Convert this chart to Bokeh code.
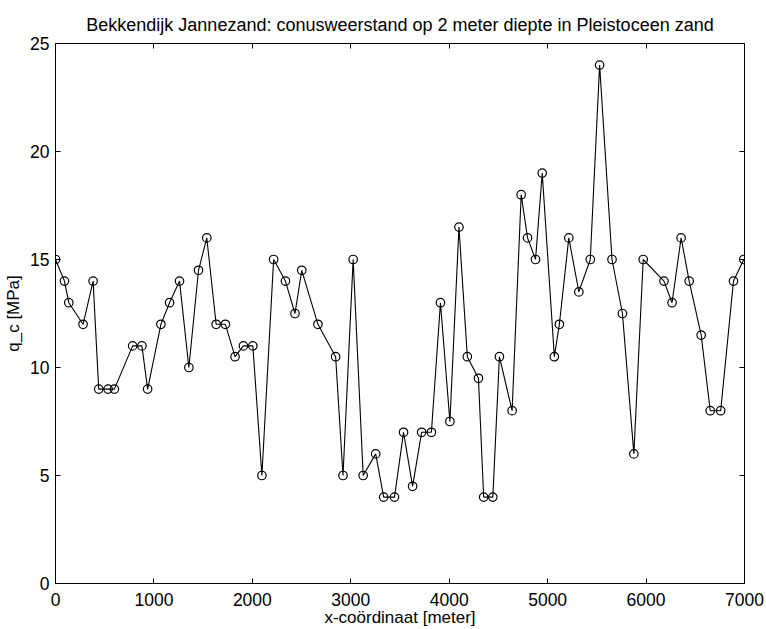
from bokeh.plotting import figure
from bokeh.models import LinearAxis, Range1d, FixedTicker
from bokeh.embed import file_html
from bokeh.resources import INLINE

x_m = [0, 91, 135, 280, 382, 439, 534, 598, 784, 878,
       936, 1071, 1159, 1260, 1355, 1453, 1537, 1632, 1726, 1824,
       1909, 2005, 2097, 2216, 2336, 2433, 2502, 2666, 2846, 2921,
       3024, 3126, 3253, 3334, 3444, 3536, 3628, 3720, 3819, 3911,
       4007, 4099, 4184, 4297, 4350, 4443, 4510, 4639, 4731, 4796,
       4877, 4945, 5068, 5119, 5215, 5317, 5433, 5528, 5654, 5760,
       5876, 5971, 6182, 6264, 6356, 6438, 6560, 6652, 6758, 6888,
       6993]
qc = [15, 14, 13, 12, 14, 9, 9, 9, 11, 11,
      9, 12, 13, 14, 10, 14.5, 16, 12, 12, 10.5,
      11, 11, 5, 15, 14, 12.5, 14.5, 12, 10.5, 5,
      15, 5, 6, 4, 4, 7, 4.5, 7, 7, 13,
      7.5, 16.5, 10.5, 9.5, 4, 4, 10.5, 8, 18, 16,
      15, 19, 10.5, 12, 16, 13.5, 15, 24, 15, 12.5,
      6, 15, 14, 13, 16, 14, 11.5, 8, 8, 14,
      15]
x_ticks = [0, 1000, 2000, 3000, 4000, 5000, 6000, 7000]
y_ticks = [0, 5, 10, 15, 20, 25]
x_title = "x-coördinaat [meter]"
y_title = "q_c [MPa]"
main_title = "Bekkendijk Jannezand: conusweerstand op 2 meter diepte in Pleistoceen zand"

FONT = "Liberation Sans"

p = figure(width=766, height=629, output_backend="svg", toolbar_location=None,
           x_range=Range1d(0, 7000), y_range=Range1d(0, 25),
           min_border_left=55, min_border_right=22, min_border_top=43, min_border_bottom=45,
           x_axis_label=x_title, y_axis_label=y_title, title=main_title)
p.background_fill_color = "white"
p.border_fill_color = "white"
p.grid.visible = False
p.outline_line_color = "black"
p.outline_line_width = 1

p.title.align = "center"
p.title.text_font = FONT
p.title.text_font_size = "18px"
p.title.text_font_style = "normal"
p.title.text_color = "black"
p.title.standoff = 17

for ax in (p.xaxis[0], p.yaxis[0]):
    ax.axis_label_text_font = FONT
    ax.axis_label_text_font_size = "17px"
    ax.axis_label_text_font_style = "normal"
    ax.axis_label_text_color = "black"
    ax.major_label_text_font = FONT
    ax.major_label_text_font_size = "17.5px"
    ax.major_label_text_color = "black"
    ax.major_tick_in = 5
    ax.major_tick_out = 0
    ax.minor_tick_in = 0
    ax.minor_tick_out = 0
    ax.axis_line_color = "black"
    ax.major_tick_line_color = "black"

p.xaxis[0].ticker = FixedTicker(ticks=x_ticks)
p.yaxis[0].ticker = FixedTicker(ticks=y_ticks)
p.xaxis[0].major_label_standoff = 9
p.xaxis[0].axis_label_standoff = -1
p.yaxis[0].major_label_standoff = 6
p.yaxis[0].axis_label_standoff = 4

top = LinearAxis(ticker=FixedTicker(ticks=x_ticks),
                 major_label_overrides={t: "" for t in x_ticks},
                 major_tick_in=5, major_tick_out=0, minor_tick_in=0, minor_tick_out=0,
                 axis_line_color="black", major_tick_line_color="black")
right = LinearAxis(ticker=FixedTicker(ticks=y_ticks),
                   major_label_overrides={t: "" for t in y_ticks},
                   major_tick_in=5, major_tick_out=0, minor_tick_in=0, minor_tick_out=0,
                   axis_line_color="black", major_tick_line_color="black")
top.major_label_standoff = 0
right.major_label_standoff = 0
p.add_layout(top, "above")
p.add_layout(right, "right")

p.line(x_m, qc, line_color="black", line_width=1.1)
p.scatter(x_m, qc, marker="circle", size=8.5, line_color="black", line_width=1.2,
          fill_alpha=0)

open("out.html", "w").write(file_html(p, INLINE))
